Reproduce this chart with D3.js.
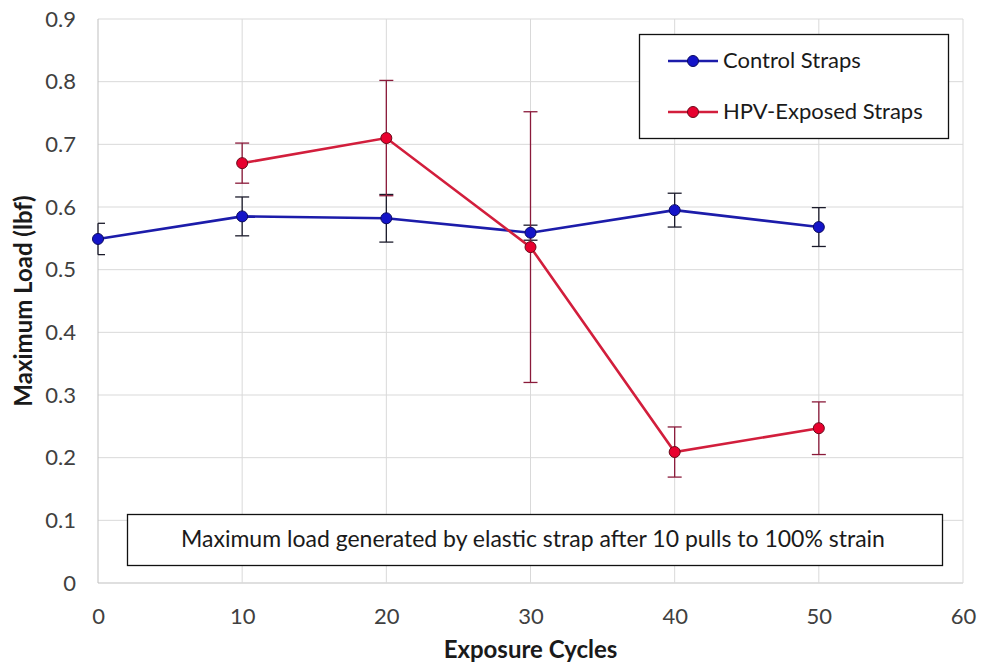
<!DOCTYPE html>
<html>
<head>
<meta charset="utf-8">
<script src="https://cdn.jsdelivr.net/npm/d3@7"></script>
<style>
  body { margin: 0; background: #fff; }
  text { font-family: Lato, "Open Sans", sans-serif; }
</style>
</head>
<body>
<div id="chart"></div>
<script>
'use strict';

// exposure cycles
let cycles = [0, 10, 20, 30, 40, 50];
let controlMean = [0.549, 0.585, 0.582, 0.559, 0.595, 0.568];
let controlErr = [0.025, 0.031, 0.038, 0.012, 0.027, 0.031];
// HPV series starts at 10 cycles
let hpvCycles = [10, 20, 30, 40, 50];
let hpvMean = [0.670, 0.710, 0.536, 0.209, 0.247];
let hpvErr = [0.032, 0.092, 0.216, 0.040, 0.042];

let xTicks = [0, 10, 20, 30, 40, 50, 60];
let yTicks = [0, 0.1, 0.2, 0.3, 0.4, 0.5, 0.6, 0.7, 0.8, 0.9];
let seriesNames = ["Control Straps", "HPV-Exposed Straps"];
let noteText = "Maximum load generated by elastic strap after 10 pulls to 100% strain";

const width = 981, height = 667;
const margin = {left: 98, right: 18, top: 19, bottom: 84};

const svg = d3.select("#chart").append("svg")
    .attr("width", width)
    .attr("height", height);

const x = d3.scaleLinear().domain([0, 60]).range([margin.left, width - margin.right]);
const y = d3.scaleLinear().domain([0, 0.9]).range([height - margin.bottom, margin.top]);

// gridlines
svg.append("g").selectAll("line.hgrid")
    .data(yTicks)
    .enter().append("line")
    .attr("x1", x(0)).attr("x2", x(60))
    .attr("y1", d => y(d)).attr("y2", d => y(d))
    .attr("stroke", d => d === 0 ? "#bfbfbf" : "#d9d9d9")
    .attr("stroke-width", 1);
svg.append("g").selectAll("line.vgrid")
    .data(xTicks)
    .enter().append("line")
    .attr("y1", y(0)).attr("y2", y(0.9))
    .attr("x1", d => x(d)).attr("x2", d => x(d))
    .attr("stroke", d => d === 0 ? "#bfbfbf" : "#d9d9d9")
    .attr("stroke-width", 1);

// tick labels through axes
const yAxis = d3.axisLeft(y).tickValues(yTicks).tickSize(0).tickPadding(22)
    .tickFormat(d => d === 0 ? "0" : d3.format(".1f")(d));
svg.append("g").attr("transform", `translate(${x(0)},0)`).call(yAxis)
    .call(g => g.select(".domain").remove())
    .selectAll("text").attr("font-size", 22).attr("fill", "#404040")
    .attr("font-family", "Lato, sans-serif");

const xAxis = d3.axisBottom(x).tickValues(xTicks).tickSize(0).tickPadding(25);
svg.append("g").attr("transform", `translate(0,${y(0)})`).call(xAxis)
    .call(g => g.select(".domain").remove())
    .selectAll("text").attr("font-size", 22).attr("fill", "#404040")
    .attr("font-family", "Lato, sans-serif");

// axis titles
svg.append("text")
    .attr("x", x(30)).attr("y", 658)
    .attr("text-anchor", "middle")
    .attr("font-size", 24).attr("font-weight", "bold").attr("fill", "#1a1a1a")
    .text("Exposure Cycles");
svg.append("text")
    .attr("transform", `translate(32,301) rotate(-90)`)
    .attr("text-anchor", "middle")
    .attr("font-size", 24).attr("font-weight", "bold").attr("fill", "#1a1a1a")
    .text("Maximum Load (lbf)");

const control = cycles.map((c, i) => ({x: c, y: controlMean[i], e: controlErr[i]}));
const hpv = hpvCycles.map((c, i) => ({x: c, y: hpvMean[i], e: hpvErr[i]}));

const line = d3.line().x(d => x(d.x)).y(d => y(d.y));

function drawErrors(data, color) {
    let g = svg.append("g").attr("stroke", color).attr("stroke-width", 1.3);
    g.selectAll("line.v").data(data).enter().append("line")
        .attr("x1", d => x(d.x)).attr("x2", d => x(d.x))
        .attr("y1", d => y(d.y - d.e)).attr("y2", d => y(d.y + d.e));
    [1, -1].forEach(s => {
        g.selectAll("line.cap" + s).data(data).enter().append("line")
            .attr("x1", d => x(d.x) - (d.x === 0 ? 0 : 7)).attr("x2", d => x(d.x) + 7)
            .attr("y1", d => y(d.y + s * d.e)).attr("y2", d => y(d.y + s * d.e));
    });
}

const blueLine = "#1c1caa", blueFill = "#1414c8", blueEdge = "#0a0a60";
const redLine = "#d21e3c", redFill = "#e8002e", redEdge = "#6a0a1a";

drawErrors(control, "#1a1a2a");
drawErrors(hpv, "#8a1a3a");

svg.append("path").datum(control)
    .attr("d", line).attr("fill", "none")
    .attr("stroke", blueLine).attr("stroke-width", 2.6);
svg.append("path").datum(hpv)
    .attr("d", line).attr("fill", "none")
    .attr("stroke", redLine).attr("stroke-width", 2.6);

svg.append("g").selectAll("circle").data(control).enter().append("circle")
    .attr("cx", d => x(d.x)).attr("cy", d => y(d.y)).attr("r", 5.5)
    .attr("fill", blueFill).attr("stroke", blueEdge).attr("stroke-width", 1);
svg.append("g").selectAll("circle").data(hpv).enter().append("circle")
    .attr("cx", d => x(d.x)).attr("cy", d => y(d.y)).attr("r", 5.5)
    .attr("fill", redFill).attr("stroke", redEdge).attr("stroke-width", 1);

// legend
const legend = svg.append("g");
legend.append("rect")
    .attr("x", 639.5).attr("y", 34.5).attr("width", 309).attr("height", 104)
    .attr("fill", "#fff").attr("stroke", "#111").attr("stroke-width", 1.3);
const legendStyles = [
    {line: blueLine, fill: blueFill, edge: blueEdge},
    {line: redLine, fill: redFill, edge: redEdge}
];
seriesNames.forEach((name, i) => {
    let ly = 61 + i * 51;
    legend.append("line")
        .attr("x1", 668).attr("x2", 718).attr("y1", ly).attr("y2", ly)
        .attr("stroke", legendStyles[i].line).attr("stroke-width", 2.6);
    legend.append("circle")
        .attr("cx", 693).attr("cy", ly).attr("r", 5.5)
        .attr("fill", legendStyles[i].fill).attr("stroke", legendStyles[i].edge);
    legend.append("text")
        .attr("x", 723).attr("y", ly + 7)
        .attr("font-size", 22).attr("fill", "#1a1a1a")
        .text(name);
});

// note box
svg.append("rect")
    .attr("x", 127.5).attr("y", 514.5).attr("width", 815).attr("height", 51)
    .attr("fill", "#fff").attr("stroke", "#111").attr("stroke-width", 1.3);
svg.append("text")
    .attr("x", 533).attr("y", 547)
    .attr("text-anchor", "middle")
    .attr("font-size", 23).attr("fill", "#1a1a1a")
    .text(noteText);
</script>
</body>
</html>
